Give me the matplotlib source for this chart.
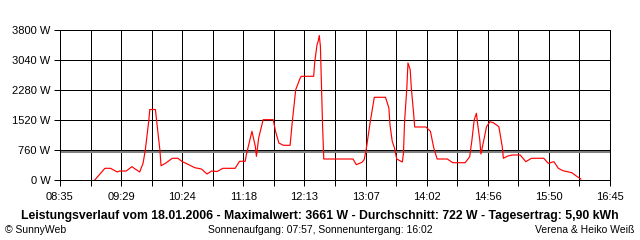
import matplotlib
matplotlib.use('Agg')
import matplotlib.pyplot as plt

# Power readings of the day (time, watts)
times = ["09:06", "09:15", "09:20", "09:26", "09:28", "09:34", "09:39", "09:46", "09:49", "09:51",
         "09:54", "09:55", "10:00", "10:02", "10:04", "10:05", "10:09", "10:15", "10:20", "10:24",
         "10:29", "10:35", "10:41", "10:46", "10:50", "10:55", "11:00", "11:11", "11:15", "11:20",
         "11:21", "11:26", "11:29", "11:30", "11:32", "11:36", "11:45", "11:47", "11:50", "11:54",
         "12:00", "12:02", "12:05", "12:09", "12:10", "12:21", "12:22", "12:24", "12:25", "12:26",
         "12:27", "12:28", "12:29", "12:30", "12:56", "12:59", "13:04", "13:06", "13:08", "13:11",
         "13:15", "13:25", "13:28", "13:29", "13:31", "13:33", "13:35", "13:40", "13:41", "13:42",
         "13:44", "13:45", "13:47", "13:48", "13:50", "13:51", "14:01", "14:05", "14:08", "14:11",
         "14:20", "14:24", "14:25", "14:36", "14:40", "14:42", "14:44", "14:46", "14:47", "14:49",
         "14:50", "14:52", "14:55", "14:58", "15:01", "15:06", "15:09", "15:10", "15:14", "15:18",
         "15:25", "15:30", "15:35", "15:46", "15:50", "15:55", "15:59", "16:03", "16:11", "16:15",
         "16:19"]
watts = [0, 296, 296, 203, 228, 228, 337, 203, 423, 760,
         1477, 1786, 1786, 1267, 760, 362, 423, 550, 550, 464,
         398, 312, 279, 152, 228, 215, 296, 296, 474, 474,
         641, 1234, 854, 600, 1064, 1528, 1528, 1234, 937, 879,
         879, 1487, 2288, 2584, 2627, 2627, 3007, 3428, 3514, 3661,
         3387, 2331, 1317, 532, 532, 388, 448, 514, 811, 1401,
         2095, 2095, 1824, 1393, 980, 811, 532, 456, 684, 1487,
         2331, 2964, 2794, 2331, 1697, 1343, 1343, 1234, 811, 532,
         532, 456, 438, 438, 590, 1013, 1520, 1690, 1436, 1013,
         659, 930, 1350, 1477, 1452, 1350, 844, 550, 608, 633,
         633, 464, 550, 550, 423, 464, 296, 236, 185, 101,
         25]
average = 722

y_ticks = [0, 760, 1520, 2280, 3040, 3800]
x_labels = ["08:35", "09:29", "10:24", "11:18", "12:13", "13:07", "14:02", "14:56", "15:50", "16:45"]

title = "Leistungsverlauf vom 18.01.2006 - Maximalwert: 3661 W - Durchschnitt: 722 W - Tagesertrag: 5,90 kWh"
footer_left = "© SunnyWeb"
footer_mid = "Sonnenaufgang: 07:57, Sonnenuntergang: 16:02"
footer_right = "Verena & Heiko Weiß"


def to_min(s):
    h, m = s.split(':')
    return int(h) * 60 + int(m)


plt.rcParams['font.family'] = ['Liberation Sans', 'DejaVu Sans']

fig = plt.figure(figsize=(6.4, 2.4), dpi=100)
ax = fig.add_axes([60 / 640, 60 / 240, 550 / 640, 150 / 240])

start, end = to_min(x_labels[0]), to_min(x_labels[-1])
step = (end - start) / 18
grid_x = [start + i * step for i in range(19)]

ax.set_xlim(start, end)
ax.set_ylim(0, 3800)

px = 0.72  # one pixel in points

# grid lines
for x in grid_x:
    ax.axvline(x, color='black', lw=px, antialiased=False, zorder=1)
for y in y_ticks:
    ax.axhline(y, color='black', lw=px, antialiased=False, zorder=1)

# average line
ax.axhline(average, color='#808080', lw=2 * px, antialiased=False, zorder=2)

ax.plot([to_min(t) for t in times], watts, color='red', lw=0.85, zorder=3)

ax.set_xticks(grid_x)
ax.set_xticklabels([x_labels[i // 2] if i % 2 == 0 else '' for i in range(19)], fontsize=8)
ax.set_yticks(y_ticks)
ax.set_yticklabels([f"{v} W" for v in y_ticks], fontsize=8)
ax.tick_params(direction='out', length=4, width=px, color='black', pad=3)
ax.tick_params(axis='x', pad=5)
for sp in ax.spines.values():
    sp.set_linewidth(px)

fig.text(0.5, 1 - 216 / 240, title, ha='center', va='center', fontsize=8.8, fontweight='bold')
fig.text(5 / 640, 1 - 230 / 240, footer_left, ha='left', va='center', fontsize=7.5)
fig.text(0.5, 1 - 230 / 240, footer_mid, ha='center', va='center', fontsize=7.5)
fig.text(634 / 640, 1 - 230 / 240, footer_right, ha='right', va='center', fontsize=7.5)

fig.savefig('out.png', dpi=100, facecolor='white')
